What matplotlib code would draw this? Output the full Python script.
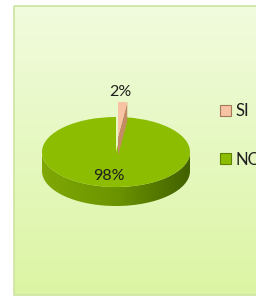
import numpy as np
import matplotlib
matplotlib.use('Agg')
import matplotlib.pyplot as plt
from matplotlib.patches import Polygon, Rectangle, Patch

# ---- data ----
categories = ['SI', 'NO']
values = [2, 98]
pct_labels = ['2%', '98%']
explode = [0.43, 0.0]
colors = ['#f7c3a3', '#8cbd00']
edge_colors = ['#a07a5a', '#5f8200']
label_dist = [1.28, 0.68]

W, H = 256, 296
fig = plt.figure(figsize=(W / 100, H / 100), dpi=100)
fig.patch.set_facecolor('white')
FONT = ['Lato', 'DejaVu Sans']

# ---- background panel with vertical gradient ----
bg = fig.add_axes([0, 0, 1, 1])
g = np.linspace(0, 1, 256)[:, None, None]
top = np.array([0.945, 0.985, 0.870])
bot = np.array([0.860, 0.960, 0.640])
bg_img = top + (bot - top) * g
bg.imshow(bg_img, extent=(14, W + 2, 295, 6), aspect='auto', zorder=0)
bg.add_patch(Rectangle((14, 6), W, 289, fill=False, edgecolor='#cde5a0', lw=1.2, zorder=1))
bg.set_xlim(0, W)
bg.set_ylim(H, 0)
bg.axis('off')

# ---- pie axes (ellipse via unequal scales) ----
rx, ry = 74, 35
cx, cy = 116, 152
ax = fig.add_axes([(cx - 1.5 * rx) / W, (H - cy - 2.5 * ry) / H, 3 * rx / W, 5 * ry / H])
ax.patch.set_alpha(0)
wedges, _ = ax.pie(values, colors=colors, startangle=90, counterclock=False,
                   explode=explode, wedgeprops=dict(linewidth=0))
depth = 19 / ry

# side of the pie (front half) with horizontal gradient
t = np.linspace(np.pi, 2 * np.pi, 200)
side_pts = np.vstack([np.c_[np.cos(t), np.sin(t)],
                      np.c_[np.cos(t[::-1]), np.sin(t[::-1]) - depth]])
side_poly = Polygon(side_pts, closed=True, facecolor='none', edgecolor='none')
ax.add_patch(side_poly)
xs = np.linspace(0, 1, 256)
c_left = np.array([0.50, 0.66, 0.02])
c_mid = np.array([0.42, 0.58, 0.0])
c_right = np.array([0.26, 0.38, 0.0])
grad = np.where(xs[:, None] < 0.5,
                c_left + (c_mid - c_left) * (xs[:, None] / 0.5),
                c_mid + (c_right - c_mid) * ((xs[:, None] - 0.5) / 0.5))
side_img = ax.imshow(grad[None, :, :], extent=(-1, 1, -1 - depth, 0.05), aspect='auto', zorder=1)
side_img.set_clip_path(side_poly)

wedges[1].set_zorder(3)
wedges[0].set_zorder(5)

# cut face of the exploded slice
w = wedges[0]
c = np.array(w.center)
a = np.deg2rad(w.theta1)
p = c + np.array([np.cos(a), np.sin(a)])
face = Polygon([c, p, p - [0, depth], c - [0, depth]], closed=True,
               facecolor='#c48c64', edgecolor='none', zorder=4)
ax.add_patch(face)

# percentage labels
for wd, lab, d in zip(wedges, pct_labels, label_dist):
    mid = np.deg2rad((wd.theta1 + wd.theta2) / 2)
    cc = np.array(wd.center)
    x = cc[0] + d * np.cos(mid) - 0.05
    y = cc[1] + d * np.sin(mid)
    ax.text(x, y, lab, ha='center', va='center', fontsize=11.5, color='#1e1e1e',
            family=FONT, zorder=6)

ax.set_aspect('auto')
ax.set_xlim(-1.5, 1.5)
ax.set_ylim(-2.5, 2.5)
ax.axis('off')

# ---- legend ----
handles = [Patch(facecolor=fc, edgecolor=ec, linewidth=0.8) for fc, ec in zip(colors, edge_colors)]
fig.legend(handles, categories, loc='upper left', bbox_to_anchor=(220 / W, 1 - 103 / H),
           frameon=False, borderpad=0, borderaxespad=0, handlelength=0.65, handleheight=0.65,
           handletextpad=0.3, labelspacing=1.95, prop=dict(family=FONT, size=12),
           labelcolor='#1e1e1e')

fig.savefig('out.png', dpi=100)
